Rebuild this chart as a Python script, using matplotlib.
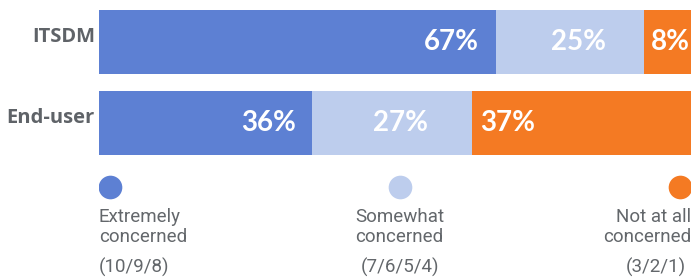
import matplotlib.pyplot as plt

groups = ["ITSDM", "End-user"]
extremely = [67, 36]
somewhat = [25, 27]
not_at_all = [8, 37]
legend_names = ["Extremely\nconcerned", "Somewhat\nconcerned", "Not at all\nconcerned"]
legend_scores = ["(10/9/8)", "(7/6/5/4)", "(3/2/1)"]

colors = ["#5d80d3", "#bdcded", "#f47a23"]
W, H = 691, 280

fig = plt.figure(figsize=(W / 100, H / 100), dpi=100)
ax = fig.add_axes([99 / W, (H - 155) / H, 592 / W, 145 / H])

series = [extremely, somewhat, not_at_all]
left = [0, 0]
for k, vals in enumerate(series):
    ax.barh(range(len(groups)), vals, left=left, height=0.8, color=colors[k], linewidth=0)
    for i, v in enumerate(vals):
        if k == 0:
            x, ha = left[i] + v - 2.8, "right"
        elif k == 1:
            x, ha = left[i] + v / 2 + 1.5, "center"
        else:
            x, ha = left[i] + 1.3, "left"
        ax.text(x, i, f"{v}%", ha=ha, va="center", color="white",
                fontsize=20, fontweight="bold", family="Lato")
    left = [a + b for a, b in zip(left, vals)]

ax.set_xlim(0, 100)
ax.set_ylim(1.4, -0.4)
ax.axis("off")
for i, g in enumerate(groups):
    ax.text(-0.7, i - 0.06, g, ha="right", va="center", color="#5f6368",
            fontsize=14.5, fontweight="bold", family="Open Sans")

# legend row
lax = fig.add_axes([99 / W, 0, 592 / W, 1])
lax.set_xlim(0, 100)
lax.set_ylim(H, 0)
lax.axis("off")
pos = [1.9, 50.8, 98.1]
aligns = ["left", "center", "right"]
text_x = [0, 50.8, 100]
for k in range(3):
    lax.scatter(pos[k], 187, s=290, color=colors[k], linewidths=0)
    lax.text(text_x[k], 227, legend_names[k], ha=aligns[k], va="center",
             color="#63676b", fontsize=13.5, family="Roboto",
             linespacing=1.1)
    lax.text(text_x[k] if k != 2 else 99.2, 267, legend_scores[k], ha=aligns[k], va="center",
             color="#63676b", fontsize=13.5, family="Roboto")

fig.savefig("out.png", dpi=100, facecolor="white")
